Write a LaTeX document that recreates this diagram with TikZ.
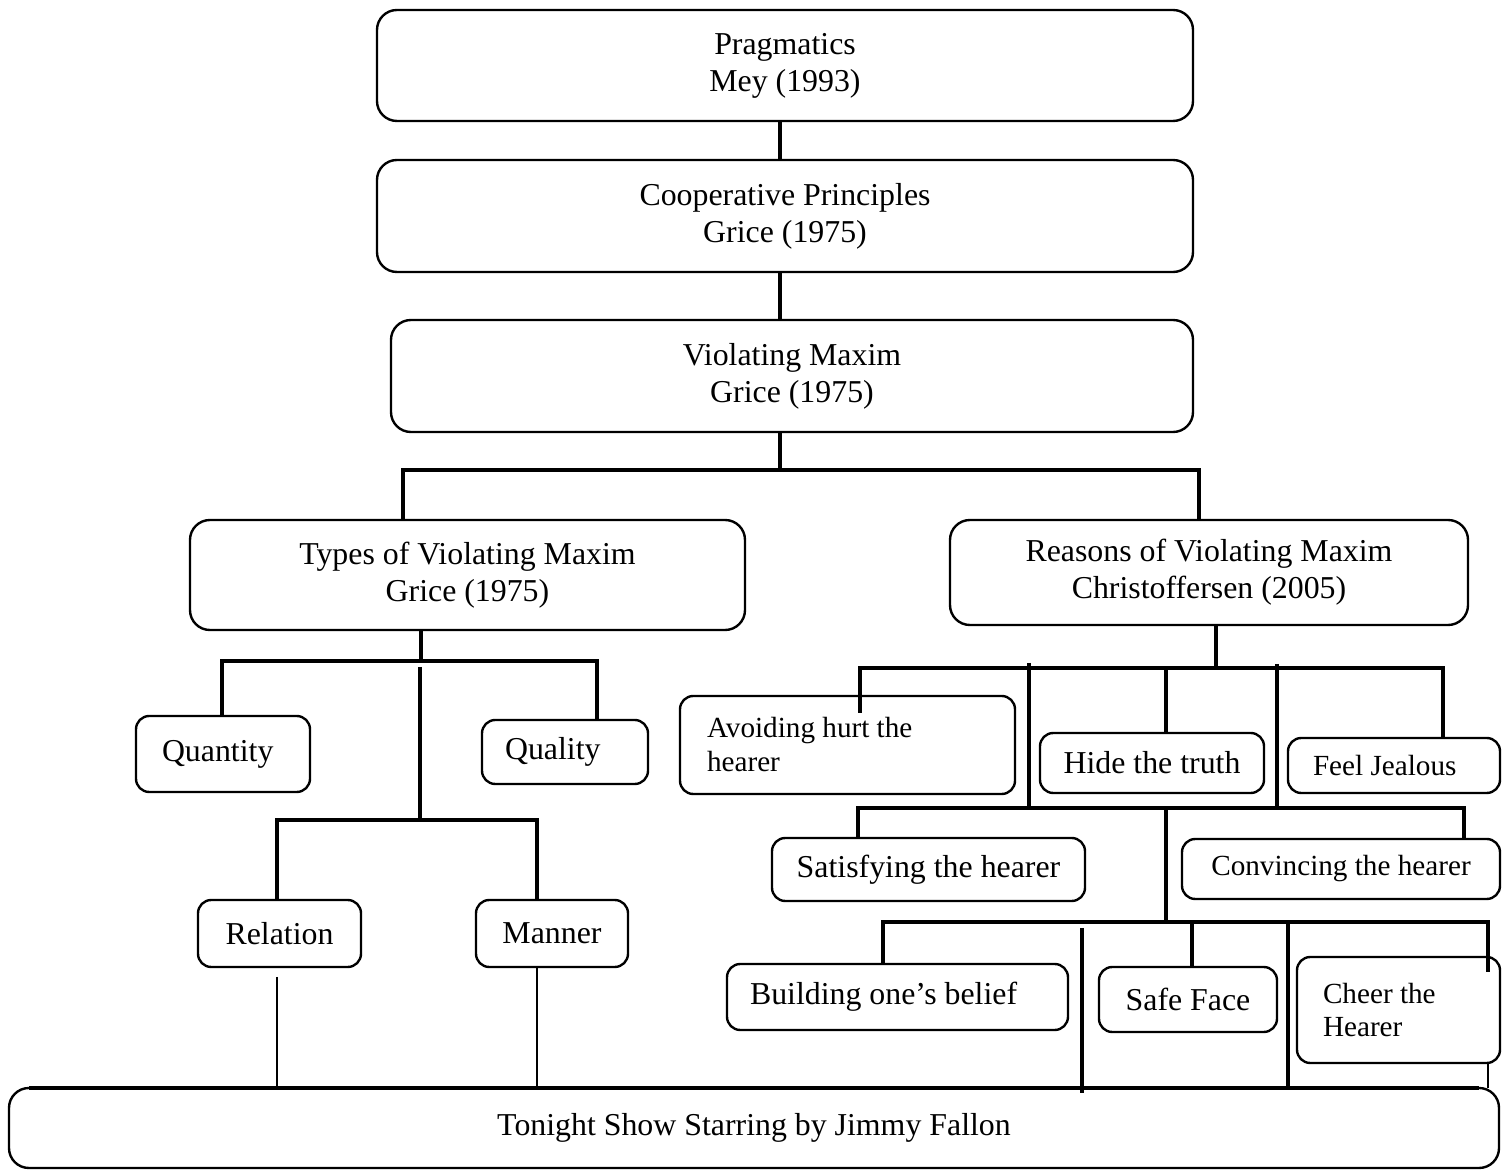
\documentclass[tikz,border=0pt]{standalone}
\usepackage{fontspec}
\setmainfont{Liberation Serif}
\newcommand\pxl{0.3768pt}
\tikzset{
  box/.style={draw, line width=0.9pt, rounded corners=7.5pt, align=center,
    anchor=north west, inner sep=0pt, outer sep=0pt, font=\fontsize{12}{13.9}\selectfont},
  smallbox/.style={box, rounded corners=5pt},
  boxsize/.style 2 args={minimum width=#1*\pxl, minimum height=#2*\pxl},
  lpad/.style={text width=#1*\pxl, align=flush left},
  smallfont/.style={font=\fontsize{11}{12.8}\selectfont},
  link/.style={line width=1.5pt},
  thinlink/.style={line width=0.9pt}
}
\begin{document}
\begin{tikzpicture}[x=\pxl,y=-\pxl]
	\useasboundingbox (0,0) rectangle (1502,1171);
	% top chain
	\node[box, boxsize={816}{111}] (prag) at (377,10) {Pragmatics\\Mey (1993)};
	\node[box, boxsize={816}{112}] (coop) at (377,160) {Cooperative Principles\\Grice (1975)};
	\node[box, boxsize={802}{112}] (viol) at (391,320) {Violating Maxim\\Grice (1975)};
	\node[box, boxsize={555}{110}] (types) at (190,520) {Types of Violating Maxim\\Grice (1975)};
	\node[box, boxsize={518}{105}] (reasons) at (950,520) {Reasons of Violating Maxim\\Christoffersen (2005)};
	% types
	\node[smallbox, boxsize={174}{76}, lpad=122] (quantity) at (136,716) {Quantity};
	\node[smallbox, boxsize={166}{64}, lpad=120] (quality) at (482,720) {Quality};
	\node[smallbox, boxsize={163}{67}] (relation) at (198,900) {Relation};
	\node[smallbox, boxsize={152}{67}] (manner) at (476,900) {Manner};
	% reasons
	\node[smallbox, smallfont, boxsize={335}{98}, lpad=281] (avoid) at (680,696) {Avoiding hurt the\\hearer};
	\node[smallbox, boxsize={224}{60}] (hide) at (1040,733) {Hide the truth};
	\node[smallbox, smallfont, boxsize={212}{55}, lpad=162] (feel) at (1288,738) {Feel Jealous};
	\node[smallbox, boxsize={313}{63}] (satis) at (772,838) {Satisfying the hearer};
	\node[smallbox, smallfont, boxsize={318}{60}] (convince) at (1182,839) {Convincing the hearer};
	\node[smallbox, boxsize={341}{66}, lpad=295] (build) at (727,964) {Building one’s belief};
	\node[smallbox, boxsize={178}{65}] (safe) at (1099,967) {Safe Face};
	\node[smallbox, smallfont, boxsize={203}{106}, lpad=151] (cheer) at (1297,957) {Cheer the\\Hearer};
	% bottom
	\node[box, boxsize={1490}{80}] (show) at (9,1088) {Tonight Show Starring by Jimmy Fallon};
	\draw[link] ([xshift=7.5pt]show.north west) -- ([xshift=-7.5pt]show.north east);

	% junctions
	\coordinate (b1) at (780,470);
	\coordinate (b1l) at (403,470);
	\coordinate (b1r) at (1199,470);
	\coordinate (b2) at (421,661);
	\coordinate (b2l) at (222,661);
	\coordinate (b2r) at (597,661);
	\coordinate (b3t) at (420,667);
	\coordinate (b3) at (420,820);
	\coordinate (b3l) at (277,820);
	\coordinate (b3r) at (537,820);
	\coordinate (r1) at (277,977);
	\coordinate (b4) at (1216,668);
	\coordinate (b4l) at (860,668);
	\coordinate (b4r) at (1443,668);
	\coordinate (a1) at (860,713);
	\coordinate (v1t) at (1029,663);
	\coordinate (v2t) at (1277,664);
	\coordinate (b5) at (1166,808);
	\coordinate (b5l) at (858,808);
	\coordinate (b5r) at (1464,808);
	\coordinate (b6) at (1166,922);
	\coordinate (b6l) at (883,922);
	\coordinate (b6r) at (1488,922);
	\coordinate (c1) at (1488,972);
	\coordinate (s1) at (1192,922);
	\coordinate (v3t) at (1082,928);
	\coordinate (v3b) at (1082,1093);
	\coordinate (v4t) at (1288,922);

	% connectors
	\draw[link] (b1 |- prag.south) -- (b1 |- coop.north);
	\draw[link] (b1 |- coop.south) -- (b1 |- viol.north);
	\draw[link] (b1 |- viol.south) -- (b1);
	\draw[link] (b1l |- types.north) -- (b1l) -- (b1r) -- (b1r |- reasons.north);
	\draw[link] (b2 |- types.south) -- (b2);
	\draw[link] (b2l |- quantity.north) -- (b2l) -- (b2r) -- (b2r |- quality.north);
	\draw[link] (b3t) -- (b3);
	\draw[link] (b3l |- relation.north) -- (b3l) -- (b3r) -- (b3r |- manner.north);
	\draw[thinlink] (r1) -- (r1 |- show.north);
	\draw[thinlink] (b3r |- manner.south) -- (b3r |- show.north);
	\draw[link] (b4 |- reasons.south) -- (b4);
	\draw[link] (a1) -- (b4l) -- (b4r) -- (b4r |- feel.north);
	\draw[link] (b5 |- b4) -- (b5 |- hide.north);
	\draw[link] (v1t) -- (v1t |- b5);
	\draw[link] (v2t) -- (v2t |- b5);
	\draw[link] (b5l |- satis.north) -- (b5l) -- (b5r) -- (b5r |- convince.north);
	\draw[link] (b5) -- (b6);
	\draw[link] (b6l |- build.north) -- (b6l) -- (b6r) -- (c1);
	\draw[link] (s1) -- (s1 |- safe.north);
	\draw[link] (v3t) -- (v3b);
	\draw[link] (v4t) -- (v4t |- show.north);
	\draw[thinlink] (c1 |- cheer.south) -- (c1 |- show.north);
\end{tikzpicture}
\end{document}
